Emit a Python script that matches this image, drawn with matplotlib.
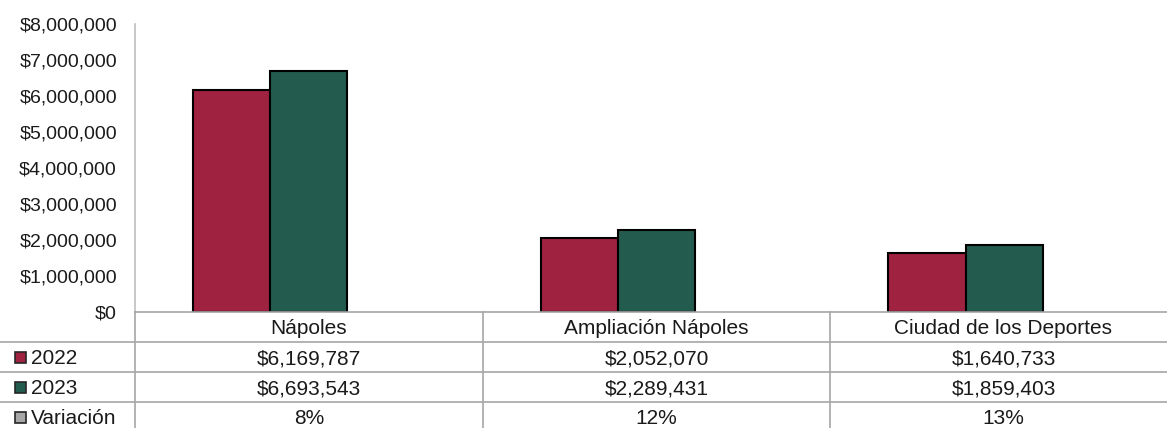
import matplotlib
matplotlib.use('Agg')
import matplotlib.pyplot as plt
import numpy as np
from matplotlib.patches import Rectangle

plt.rcParams.update({'font.family': ['Liberation Sans', 'DejaVu Sans'], 'font.size': 14})

categories = ['Nápoles', 'Ampliación Nápoles', 'Ciudad de los Deportes']
v2022 = [6169787, 2052070, 1640733]
v2023 = [6693543, 2289431, 1859403]
variacion = ['8%', '12%', '13%']
series = ['2022', '2023', 'Variación']
colors = ['#9F2241', '#235B4E', '#A6A6A6']
yticks = np.arange(0, 8000001, 1000000)

W, H = 1167, 428
fig = plt.figure(figsize=(W / 100, H / 100), dpi=100)

# plot area in pixels
x0, x1, ytop, ybot = 135, 1167, 24, 312
ax = fig.add_axes([x0 / W, (H - ybot) / H, (x1 - x0) / W, (ybot - ytop) / H])
step = 347.75
first = 270
ax.set_xlim(-(first - x0) / step, (x1 - first) / step)
ax.set_ylim(0, 8000000)

x = np.arange(len(categories))
bw = 0.222
ax.bar(x - bw / 2, v2022, bw, color=colors[0], edgecolor='black', lw=1.5)
ax.bar(x + bw / 2, v2023, bw, color=colors[1], edgecolor='black', lw=1.5)

ax.set_yticks(yticks)
ax.set_yticklabels([f'${v:,.0f}' for v in yticks], color='#1a1a1a')
ax.tick_params(axis='y', length=0, pad=13)
ax.set_xticks([])
for s in ['top', 'right', 'bottom']:
    ax.spines[s].set_visible(False)
ax.spines['left'].set_color('#BFBFBF')
ax.spines['left'].set_linewidth(1.2)

# data table underneath, drawn in pixel coordinates
tab = fig.add_axes([0, 0, 1, 1])
tab.set_xlim(0, W)
tab.set_ylim(H, 0)
tab.axis('off')
tab.patch.set_alpha(0)

gc = '#A6A6A6'
rows = [312, 342, 372, 402, 432]
cols = [135, 483, 830, 1177]
tab.plot([135, W], [312, 312], color=gc, lw=1.2)
for r in rows[1:]:
    tab.plot([0, W], [r, r], color=gc, lw=1.2)
for c in cols:
    tab.plot([c, c], [312, H], color=gc, lw=1.2)

fs = 15
centers = [(cols[i] + cols[i + 1]) / 2 for i in range(3)]
for cx, cat in zip(centers, categories):
    tab.text(cx, 327, cat, ha='center', va='center_baseline', fontsize=fs, color='#1a1a1a')

table_rows = [[f'${v:,.0f}' for v in v2022], [f'${v:,.0f}' for v in v2023], variacion]
for i, (name, vals) in enumerate(zip(series, table_rows)):
    yc = (rows[i + 1] + rows[i + 2]) / 2
    tab.add_patch(Rectangle((15, yc - 5), 10.5, 10.5, facecolor=colors[i], edgecolor='#262626', lw=1.2))
    tab.text(31, yc, name, ha='left', va='center_baseline', fontsize=fs, color='#1a1a1a')
    for cx, v in zip(centers, vals):
        tab.text(cx, yc, v, ha='center', va='center_baseline', fontsize=fs, color='#1a1a1a')

fig.savefig('out.png', dpi=100)
